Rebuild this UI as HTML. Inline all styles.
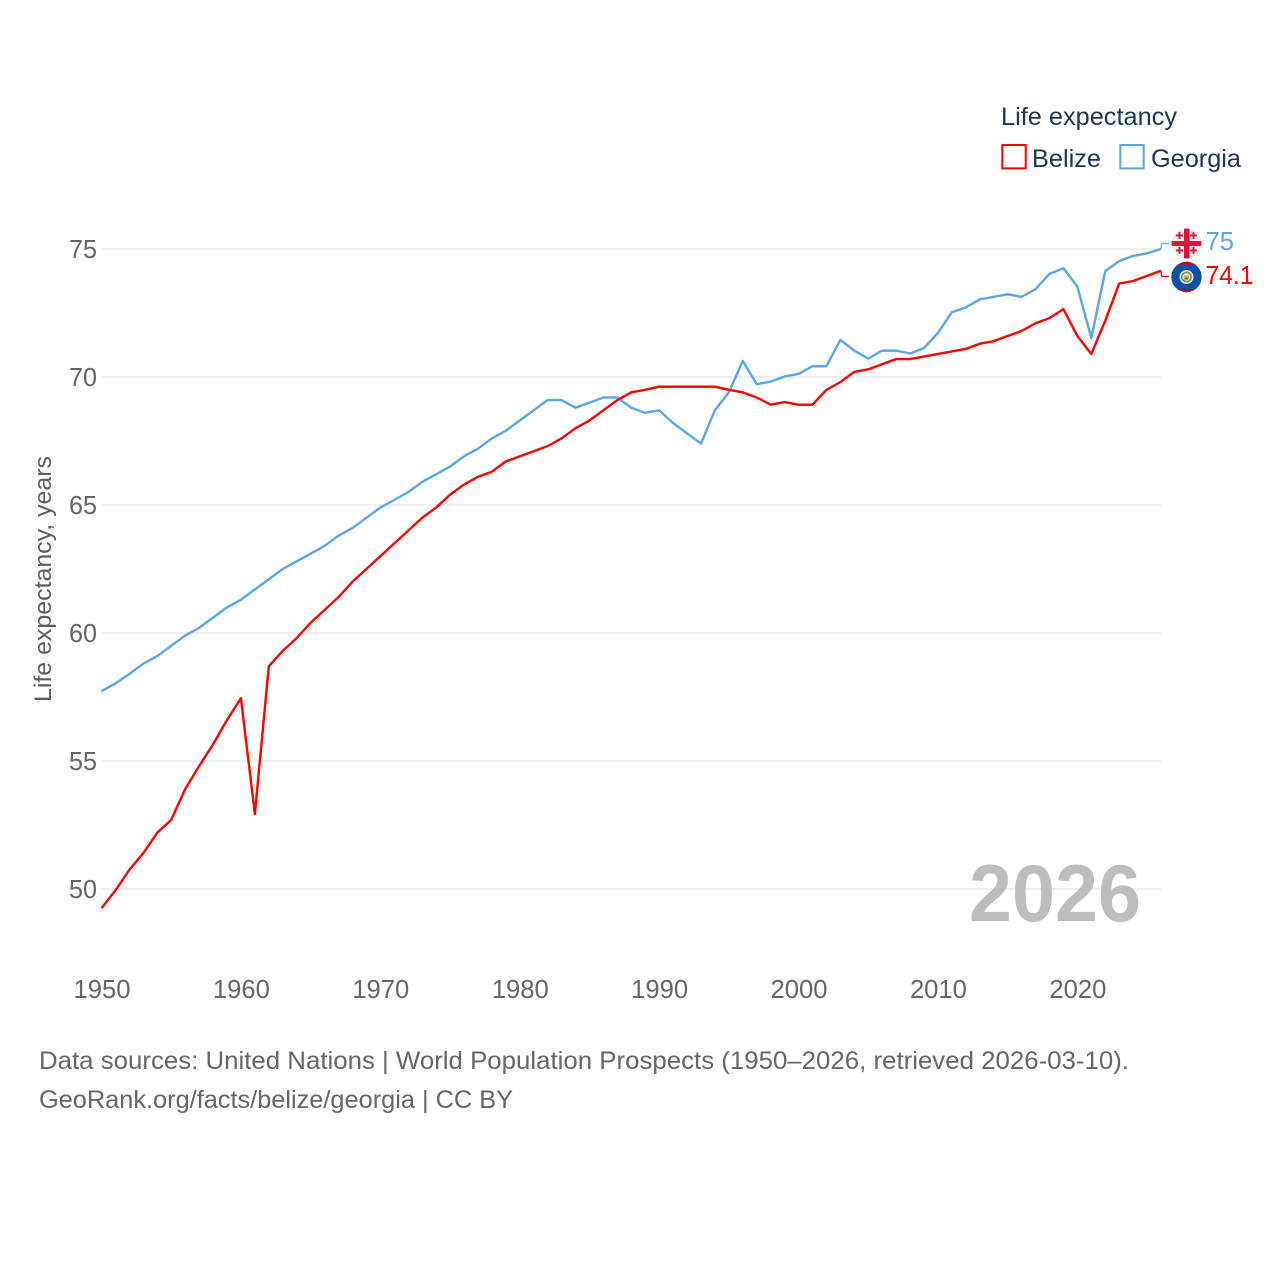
<!DOCTYPE html>
<html lang="en">
<head>
<meta charset="utf-8">
<title>Life expectancy: Belize and Georgia</title>
<style>
html,body{margin:0;padding:0;background:#fff;width:1280px;height:1280px;overflow:hidden}
svg{display:block}
text{font-family:"Liberation Sans",sans-serif}
</style>
</head>
<body>
<svg id="chart" xmlns="http://www.w3.org/2000/svg" width="1280" height="1280" viewBox="0 0 1280 1280">
  <g id="grid"></g>
  <g id="y-ticks"></g>
  <g id="x-ticks"></g>
  <text transform="translate(51,579) rotate(-90)" text-anchor="middle" font-size="24" fill="#5e5e5e" textLength="246" lengthAdjust="spacingAndGlyphs">Life expectancy, years</text>
  <text x="969" y="921" font-size="81" font-weight="700" fill="#bdbdbd" textLength="172" lengthAdjust="spacingAndGlyphs">2026</text>
  <g id="series"></g>
  <g id="end-labels"></g>
  <g>
    <clipPath id="clip-georgia"><circle cx="1186.5" cy="243.5" r="15"/></clipPath>
    <g clip-path="url(#clip-georgia)">
      <rect x="1171" y="228" width="31" height="31" fill="#f0eeee"/>
      <rect x="1184" y="228" width="5.5" height="31" fill="#e0103a"/>
      <rect x="1171" y="241" width="31" height="5" fill="#e0103a"/>
      <path d="M1178.5 234.5h-2.6v1.9h2.6v2.6h1.9v-2.6h2.6v-1.9h-2.6v-2.6h-1.9zM1192.5 234.5h-2.6v1.9h2.6v2.6h1.9v-2.6h2.6v-1.9h-2.6v-2.6h-1.9zM1178.5 249.5h-2.6v1.9h2.6v2.6h1.9v-2.6h2.6v-1.9h-2.6v-2.6h-1.9zM1192.5 249.5h-2.6v1.9h2.6v2.6h1.9v-2.6h2.6v-1.9h-2.6v-2.6h-1.9z" fill="#e0103a"/>
    </g>
  </g>
  <g>
    <clipPath id="clip-belize"><circle cx="1186.5" cy="277" r="15.2"/></clipPath>
    <g clip-path="url(#clip-belize)">
      <rect x="1171" y="261" width="31" height="32" fill="#0a4fa8"/>
      <rect x="1171" y="261" width="31" height="4" fill="#b01030"/>
      <rect x="1171" y="289" width="31" height="4" fill="#b01030"/>
      <circle cx="1186.5" cy="277" r="7" fill="#e9e6da"/>
      <circle cx="1186.5" cy="277" r="5.5" fill="#6f9a63"/>
      <circle cx="1186.5" cy="277" r="3.8" fill="#f0efe6"/>
      <rect x="1184" y="275.5" width="5" height="2.5" fill="#d9a933"/>
      <rect x="1184.5" y="278" width="4" height="1.5" fill="#2b5a9c"/>
    </g>
  </g>
  <g>
    <text x="1001" y="125" font-size="25" fill="#1d3557" textLength="176" lengthAdjust="spacingAndGlyphs">Life expectancy</text>
    <g>
      <rect x="1002.3" y="145" width="23.4" height="23.4" fill="none" stroke="#ff0000" stroke-width="2"/>
      <text x="1032" y="167" font-size="25" fill="#1d3557" textLength="69" lengthAdjust="spacingAndGlyphs">Belize</text>
    </g>
    <g>
      <rect x="1120.3" y="145" width="23.4" height="23.4" fill="none" stroke="#5ba4ee" stroke-width="2"/>
      <text x="1151" y="167" font-size="25" fill="#1d3557" textLength="90" lengthAdjust="spacingAndGlyphs">Georgia</text>
    </g>
  </g>
  <text x="39" y="1069" font-size="25" fill="#666666" textLength="1090" lengthAdjust="spacingAndGlyphs">Data sources: United Nations | World Population Prospects (1950–2026, retrieved 2026-03-10).</text>
  <text x="39" y="1108" font-size="25" fill="#666666" textLength="474" lengthAdjust="spacingAndGlyphs">GeoRank.org/facts/belize/georgia | CC BY</text>
</svg>
<script>
const startYear = 1950;
const endYear = 2026;
const yTickValues = [50, 55, 60, 65, 70, 75];
const xTickYears = [1950, 1960, 1970, 1980, 1990, 2000, 2010, 2020];
const belizeValues = [49.25,49.95,50.75,51.4,52.2,52.7,53.9,54.8,55.65,56.6,57.45,52.93,58.7,59.3,59.8,60.4,60.9,61.4,62.0,62.5,63.0,63.5,64.0,64.5,64.9,65.4,65.8,66.1,66.3,66.7,66.9,67.1,67.3,67.6,68.0,68.3,68.7,69.1,69.4,69.5,69.62,69.62,69.62,69.62,69.62,69.5,69.4,69.2,68.92,69.02,68.92,68.92,69.5,69.8,70.2,70.3,70.5,70.7,70.7,70.8,70.9,71.0,71.1,71.3,71.4,71.6,71.8,72.1,72.3,72.65,71.6,70.9,72.2,73.65,73.75,73.95,74.15];
const georgiaValues = [57.73,58.03,58.4,58.8,59.1,59.5,59.9,60.2,60.6,61.0,61.3,61.7,62.1,62.5,62.8,63.1,63.4,63.8,64.1,64.5,64.9,65.2,65.5,65.9,66.2,66.5,66.9,67.2,67.6,67.9,68.3,68.7,69.1,69.1,68.8,69.0,69.2,69.2,68.8,68.6,68.7,68.2,67.8,67.4,68.7,69.4,70.63,69.72,69.82,70.02,70.12,70.42,70.42,71.45,71.03,70.72,71.03,71.03,70.92,71.13,71.72,72.53,72.72,73.03,73.13,73.23,73.13,73.43,74.03,74.25,73.53,71.52,74.13,74.53,74.73,74.83,75.0];
const belizeEndLabel = "74.1";
const georgiaEndLabel = "75";

const NS = "http://www.w3.org/2000/svg";
const plotLeft = 101.5, plotRight = 1161;
function xScale(year) {
  return plotLeft + (year - startYear) * (plotRight - plotLeft) / (endYear - startYear);
}
function yScale(value) {
  return 889 - (value - 50) * 25.6;
}
function make(tag, attrs, parent) {
  const el = document.createElementNS(NS, tag);
  for (const k in attrs) el.setAttribute(k, attrs[k]);
  parent.appendChild(el);
  return el;
}
const gridGroup = document.getElementById("grid");
const yTickGroup = document.getElementById("y-ticks");
const xTickGroup = document.getElementById("x-ticks");
const seriesGroup = document.getElementById("series");
const labelGroup = document.getElementById("end-labels");

yTickValues.forEach(function (v) {
  const line = make("line", {x1: plotLeft, x2: plotRight, y1: yScale(v), y2: yScale(v), stroke: "#e9e9e9", "stroke-width": 1.5}, gridGroup);
  
  
  const label = make("text", {x: 97, y: yScale(v) + 9, "text-anchor": "end", "font-size": 26, fill: "#666666", textLength: 28, lengthAdjust: "spacingAndGlyphs"}, yTickGroup);
  
  
  label.textContent = v;
});
xTickYears.forEach(function (yr) {
  const label = make("text", {x: xScale(yr) + 0.5, y: 998, "text-anchor": "middle", "font-size": 26, fill: "#666666", textLength: 57, lengthAdjust: "spacingAndGlyphs"}, xTickGroup);
  
  
  label.textContent = yr;
});
function pointsFor(values) {
  return values.map(function (v, i) {
    return xScale(startYear + i).toFixed(2) + "," + yScale(v).toFixed(2);
  }).join(" ");
}
const georgiaLine = make("polyline", {points: pointsFor(georgiaValues), fill: "none", stroke: "#5ba4ee", "stroke-width": 2.4, "stroke-linejoin": "round"}, seriesGroup);


const belizeLine = make("polyline", {points: pointsFor(belizeValues), fill: "none", stroke: "#ff0000", "stroke-width": 2.4, "stroke-linejoin": "round"}, seriesGroup);



const georgiaEndY = yScale(georgiaValues[georgiaValues.length - 1]);
const belizeEndY = yScale(belizeValues[belizeValues.length - 1]);
const georgiaConnector = make("polyline", {points: plotRight + "," + georgiaEndY + " 1161.5,243.5 1169,243.5", fill: "none", stroke: "#5ba4ee", "stroke-width": 1.2}, labelGroup);


const belizeConnector = make("polyline", {points: plotRight + "," + belizeEndY + " 1161.5,276.5 1169,276.5", fill: "none", stroke: "#ff0000", "stroke-width": 1.2}, labelGroup);


const georgiaLabel = make("text", {x: 1205.5, y: 250, "font-size": 26, fill: "#5ba4ee", textLength: 28.5, lengthAdjust: "spacingAndGlyphs"}, labelGroup);


georgiaLabel.textContent = georgiaEndLabel;
const belizeLabel = make("text", {x: 1205.5, y: 284, "font-size": 26, fill: "#ff0000", textLength: 48, lengthAdjust: "spacingAndGlyphs"}, labelGroup);


belizeLabel.textContent = belizeEndLabel;
</script>
</body>
</html>
